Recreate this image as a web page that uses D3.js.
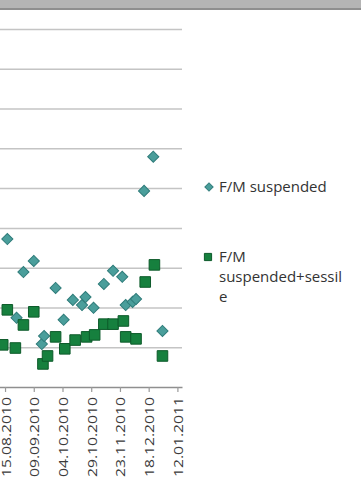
<!DOCTYPE html>
<html>
<head>
<meta charset="utf-8">
<script src="https://cdn.jsdelivr.net/npm/d3@7"></script>
<style>
  html, body { margin: 0; padding: 0; background: #fff; }
  svg { display: block; }
</style>
</head>
<body>
<svg id="chart" width="361" height="483"></svg>
<script>
// F/M ratio, suspended biomass only
const suspendedDates = ["17.08.2010","25.08.2010","31.08.2010","09.09.2010","16.09.2010","18.09.2010",
  "28.09.2010","05.10.2010","13.10.2010","21.10.2010","24.10.2010","31.10.2010","09.11.2010",
  "17.11.2010","25.11.2010","28.11.2010","04.12.2010","07.12.2010","14.12.2010","22.12.2010","30.12.2010"];
const suspendedValues = [0.372,0.174,0.289,0.317,0.108,0.128,
  0.249,0.169,0.219,0.206,0.226,0.199,0.259,
  0.292,0.277,0.206,0.214,0.221,0.493,0.579,0.141];

// F/M ratio, suspended + sessile biomass
const totalDates = ["13.08.2010","17.08.2010","24.08.2010","31.08.2010","09.09.2010","17.09.2010",
  "21.09.2010","28.09.2010","06.10.2010","15.10.2010","25.10.2010","01.11.2010","09.11.2010",
  "17.11.2010","26.11.2010","28.11.2010","07.12.2010","15.12.2010","23.12.2010","30.12.2010"];
const totalValues = [0.106,0.194,0.098,0.156,0.189,0.058,
  0.078,0.126,0.096,0.118,0.126,0.131,0.158,
  0.158,0.166,0.126,0.121,0.264,0.307,0.078];

const xTickLabels = ["15.08.2010","09.09.2010","04.10.2010","29.10.2010","23.11.2010","18.12.2010","12.01.2011"];
const yTicks = [0.1,0.2,0.3,0.4,0.5,0.6,0.7,0.8,0.9];
const xDomain = ["02.06.2010","16.01.2011"];
const yDomain = [0, 0.9];

const seriesNames = ["F/M suspended", "F/M suspended+sessile"];

const parse = d3.utcParse("%d.%m.%Y");
const fmt = d3.utcFormat("%d.%m.%Y");

const svg = d3.select("#chart");

// Plot area (its left part, with the value axis, lies outside the visible frame)
const plot = { left: -80, right: 182, top: 29, bottom: 387 };

const x = d3.scaleUtc().domain(xDomain.map(parse)).range([plot.left, plot.right]);
const y = d3.scaleLinear().domain(yDomain).range([plot.bottom, plot.top]);

// Window band along the top
svg.append("rect").attr("x", 0).attr("y", 0).attr("width", 361).attr("height", 9)
  .attr("fill", "#b4b4b4");
svg.append("rect").attr("x", 0).attr("y", 8).attr("width", 361).attr("height", 2)
  .attr("fill", "#8e8e8e");

// Horizontal gridlines
svg.append("g")
  .attr("transform", `translate(${plot.left},0)`)
  .call(d3.axisLeft(y).tickValues(yTicks).tickSize(-(plot.right - plot.left)).tickFormat(""))
  .call(g => g.select(".domain").remove())
  .call(g => g.selectAll(".tick line").attr("stroke", "#c4c4c4").attr("stroke-width", 1.5));

// Date axis
const xAxis = svg.append("g")
  .attr("transform", `translate(0,${plot.bottom})`)
  .call(d3.axisBottom(x).tickValues(xTickLabels.map(parse)).tickFormat(fmt).tickSize(5).tickSizeOuter(0));
xAxis.select(".domain").attr("stroke", "#8f8f8f").attr("stroke-width", 1.5);
xAxis.selectAll(".tick line").attr("stroke", "#9a9a9a").attr("stroke-width", 1.2);
xAxis.selectAll(".tick text")
  .attr("transform", "rotate(-90)")
  .attr("text-anchor", "end")
  .attr("x", -10)
  .attr("y", 0)
  .attr("dy", "0.42em")
  .attr("fill", "#3a3a3a")
  .style("font-family", "'Open Sans', sans-serif")
  .style("font-size", "12px")
  .attr("textLength", 80)
  .attr("lengthAdjust", "spacingAndGlyphs");

const diamond = d3.symbol().type(d3.symbolSquare).size(62);
const square = d3.symbol().type(d3.symbolSquare).size(112);

const suspended = suspendedDates.map((d, i) => ({ date: parse(d), value: suspendedValues[i] }));
const total = totalDates.map((d, i) => ({ date: parse(d), value: totalValues[i] }));

svg.append("g").selectAll("path").data(suspended).join("path")
  .attr("d", diamond)
  .attr("transform", d => `translate(${x(d.date)},${y(d.value)}) rotate(45)`)
  .attr("fill", "#4a9e9b").attr("stroke", "#2f7c7a").attr("stroke-width", 1);

svg.append("g").selectAll("path").data(total).join("path")
  .attr("d", square)
  .attr("transform", d => `translate(${x(d.date)},${y(d.value)})`)
  .attr("fill", "#16803e").attr("stroke", "#0d5a2a").attr("stroke-width", 1);

// Legend
const legend = svg.append("g")
  .style("font-family", "'Open Sans', sans-serif")
  .style("font-size", "15px")
  .attr("fill", "#333333");

legend.append("path")
  .attr("d", d3.symbol().type(d3.symbolSquare).size(34))
  .attr("transform", "translate(209,187) rotate(45)")
  .attr("fill", "#4a9e9b").attr("stroke", "#2f7c7a");
legend.append("text").attr("x", 219).attr("y", 192).text(seriesNames[0]);

legend.append("path")
  .attr("d", d3.symbol().type(d3.symbolSquare).size(52))
  .attr("transform", "translate(208,257)")
  .attr("fill", "#16803e").attr("stroke", "#0d5a2a");
const t2 = legend.append("text").attr("x", 219).attr("y", 262);
// Wrapped the way the legend box breaks the series name
["F/M", "suspended+sessil", "e"].forEach((line, i) => {
  t2.append("tspan").attr("x", 219).attr("dy", i === 0 ? 0 : 20).text(line);
});
</script>
</body>
</html>
